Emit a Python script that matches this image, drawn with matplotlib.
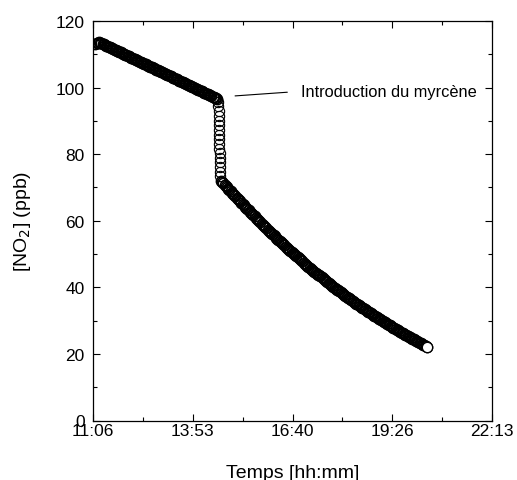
import matplotlib
matplotlib.use("Agg")
import matplotlib.pyplot as plt
import numpy as np

plt.rcParams["font.family"] = ["Liberation Sans", "DejaVu Sans"]

# time axis: minutes after 11:06, logger sampled every 2 min
SAMPLE_STEP = 2

# before myrcene injection (t = 4 ... 208 min)
no2_before = [
    113.0, 113.3, 113.5, 113.6,
    113.5, 113.3, 113.2, 113.0, 112.8, 112.6, 112.5, 112.3, 112.1, 112.0,
    111.8, 111.6, 111.4, 111.3, 111.1, 110.9, 110.8, 110.6, 110.4, 110.2,
    110.1, 109.9, 109.7, 109.5, 109.4, 109.2, 109.0, 108.9, 108.7, 108.5,
    108.3, 108.2, 108.0, 107.8, 107.7, 107.5, 107.3, 107.1, 107.0, 106.8,
    106.6, 106.4, 106.3, 106.1, 105.9, 105.8, 105.6, 105.4, 105.2, 105.1,
    104.9, 104.7, 104.6, 104.4, 104.2, 104.0, 103.9, 103.7, 103.5, 103.4,
    103.2, 103.0, 102.8, 102.7, 102.5, 102.3, 102.1, 102.0, 101.8, 101.6,
    101.5, 101.3, 101.1, 100.9, 100.8, 100.6, 100.4, 100.3, 100.1, 99.9,
    99.7, 99.6, 99.4, 99.2, 99.1, 98.9, 98.7, 98.5, 98.4, 98.2,
    98.0, 97.8, 97.7, 97.5, 97.3, 97.2, 97.0, 96.8, 96.6,
]
t_before = np.arange(len(no2_before)) * SAMPLE_STEP + 4

# fast drop right after the injection
t_drop = [209.4, 209.6, 209.8, 210.0, 210.2, 210.4, 210.6, 210.8, 211.0,
          211.2, 211.4, 211.6, 211.8, 212.0, 212.2, 212.4, 212.6]
no2_drop = [95.8, 94.4, 93.0, 91.6, 90.1, 88.7, 87.3, 85.9, 84.5,
            83.1, 81.7, 80.3, 78.9, 77.5, 76.1, 74.7, 73.3]

# decay after the injection (t = 214 ... 558 min)
no2_after = [
    72.0, 71.6, 71.2, 70.8, 70.4, 70.0, 69.6, 69.2, 68.8, 68.4,
    68.1, 67.7, 67.3, 66.9, 66.5, 66.1, 65.8, 65.4, 65.0, 64.6,
    64.2, 63.9, 63.5, 63.1, 62.7, 62.4, 62.0, 61.6, 61.3, 60.9,
    60.5, 60.2, 59.8, 59.5, 59.1, 58.7, 58.4, 58.0, 57.7, 57.3,
    57.0, 56.6, 56.3, 55.9, 55.6, 55.3, 54.9, 54.6, 54.2, 53.9,
    53.6, 53.2, 52.9, 52.6, 52.2, 51.9, 51.6, 51.3, 50.9, 50.6,
    50.3, 50.0, 49.6, 49.3, 49.0, 48.7, 48.4, 48.1, 47.8, 47.4,
    47.1, 46.8, 46.5, 46.2, 45.9, 45.6, 45.3, 45.0, 44.7, 44.4,
    44.1, 43.8, 43.6, 43.3, 43.0, 42.7, 42.4, 42.1, 41.8, 41.5,
    41.3, 41.0, 40.7, 40.4, 40.2, 39.9, 39.6, 39.3, 39.1, 38.8,
    38.5, 38.3, 38.0, 37.7, 37.5, 37.2, 36.9, 36.7, 36.4, 36.2,
    35.9, 35.7, 35.4, 35.1, 34.9, 34.6, 34.4, 34.2, 33.9, 33.7,
    33.4, 33.2, 32.9, 32.7, 32.5, 32.2, 32.0, 31.8, 31.5, 31.3,
    31.1, 30.8, 30.6, 30.4, 30.1, 29.9, 29.7, 29.5, 29.2, 29.0,
    28.8, 28.6, 28.4, 28.1, 27.9, 27.7, 27.5, 27.3, 27.1, 26.8,
    26.6, 26.4, 26.2, 26.0, 25.8, 25.6, 25.4, 25.2, 25.0, 24.8,
    24.6, 24.4, 24.2, 24.0, 23.8, 23.6, 23.4, 23.2, 23.0, 22.8,
    22.6, 22.4, 22.2,
]
t_after = np.arange(len(no2_after)) * SAMPLE_STEP + 214

x_labels = ["11:06", "13:53", "16:40", "19:26", "22:13"]
x_span = 667  # 11:06 -> 22:13 in minutes
y_ticks = [0, 20, 40, 60, 80, 100, 120]

# annotation anchor (injection time / level) and label position
inject_xy = (237.5, 97.5)
label_xy = (348, 98.9)

MS = 7.4
MEW = 1.1

fig = plt.figure(figsize=(5.17, 4.81), dpi=100)
ax = fig.add_axes([93 / 517, 1 - 421.5 / 481, 399 / 517, 399.5 / 481])

# hollow circles: dense sampling makes the trace look solid black
marker_kw = dict(linestyle="none", marker="o", markersize=MS,
                 markerfacecolor="none", markeredgecolor="black")
ax.plot(t_before, no2_before, markeredgewidth=MEW, **marker_kw)
ax.plot(t_drop, no2_drop, markeredgewidth=0.8, **marker_kw)
ax.plot(t_after, no2_after, markeredgewidth=MEW, **marker_kw)
# last point sits on top with a white face, as in the original
ax.plot(t_after[-1:], no2_after[-1:], linestyle="none", marker="o",
        markersize=MS, markerfacecolor="white", markeredgecolor="black",
        markeredgewidth=0.9)

ax.annotate("Introduction du myrcène", xy=inject_xy, xytext=label_xy,
            ha="left", va="center", fontsize=11.8,
            arrowprops=dict(arrowstyle="-", color="black", lw=0.8,
                            shrinkA=8, shrinkB=0, relpos=(0, 0.5)))

ax.set_xlim(0, x_span)
ax.set_ylim(0, 120)
x_pos = np.linspace(0, x_span, len(x_labels))
ax.set_xticks(x_pos)
ax.set_xticklabels(x_labels)
ax.set_xticks((x_pos[:-1] + x_pos[1:]) / 2, minor=True)
ax.set_yticks(y_ticks)
ax.set_yticks(np.array(y_ticks[:-1]) + 10, minor=True)

ax.tick_params(which="both", direction="in", top=True, right=True,
               width=0.8, labelsize=12.5)
ax.tick_params(which="major", length=5)
ax.tick_params(which="minor", length=3)
ax.tick_params(axis="x", pad=1.5)
ax.tick_params(axis="y", pad=6)
for s in ax.spines.values():
    s.set_linewidth(0.9)

ax.set_xlabel("Temps [hh:mm]", fontsize=14, labelpad=19)
ax.set_ylabel("[NO$_2$] (ppb)", fontsize=14, labelpad=16)

fig.savefig("out.png", dpi=100)
